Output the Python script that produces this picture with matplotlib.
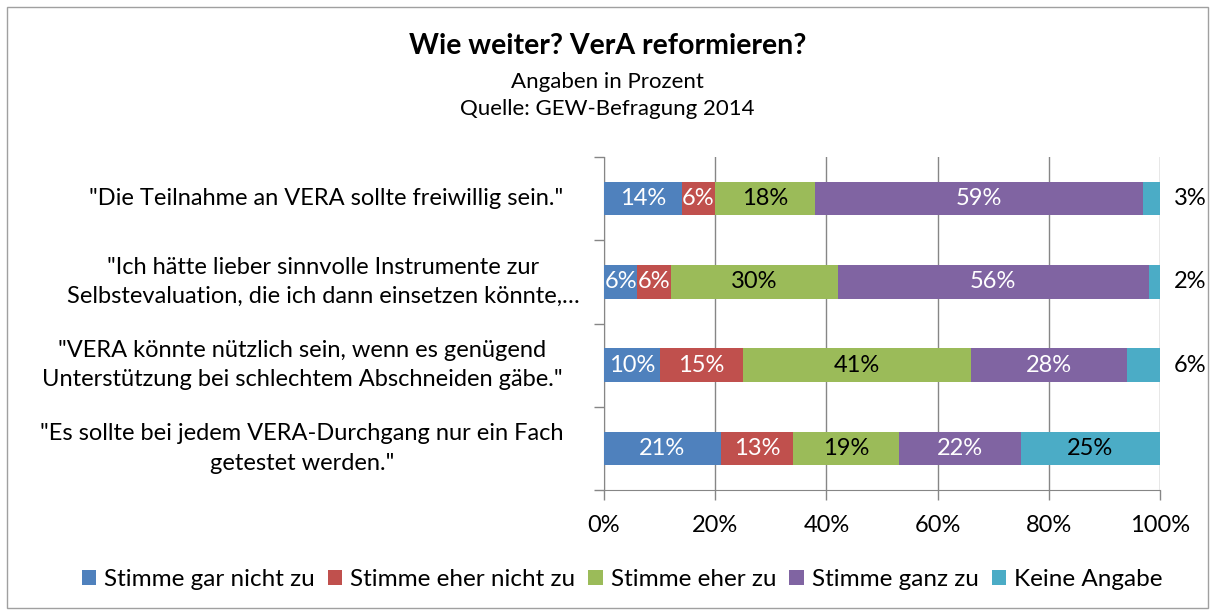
import matplotlib
matplotlib.use('Agg')
from matplotlib import pyplot as plt
from matplotlib.patches import Rectangle

plt.rcParams['font.family'] = ['Lato', 'DejaVu Sans']

# Daten
aussagen = [
    '"Die Teilnahme an VERA sollte freiwillig sein."',
    '"Ich hätte lieber sinnvolle Instrumente zur\nSelbstevaluation, die ich dann einsetzen könnte,…',
    '"VERA könnte nützlich sein, wenn es genügend\nUnterstützung bei schlechtem Abschneiden gäbe."',
    '"Es sollte bei jedem VERA-Durchgang nur ein Fach\ngetestet werden."',
]
kategorien = ['Stimme gar nicht zu', 'Stimme eher nicht zu', 'Stimme eher zu',
              'Stimme ganz zu', 'Keine Angabe']
gar_nicht = [14, 6, 10, 21]
eher_nicht = [6, 6, 15, 13]
eher_zu = [18, 30, 41, 19]
ganz_zu = [59, 56, 28, 22]
keine_angabe = [3, 2, 6, 25]
werte = [gar_nicht, eher_nicht, eher_zu, ganz_zu, keine_angabe]

farben = ['#4F81BD', '#C0504D', '#9BBB59', '#8064A2', '#4BACC6']
textfarben = ['white', 'white', 'black', 'white', 'black']
grau = '#868686'
# horizontale Position der Aussagen (Pixel links von der Achse)
label_versatz = [-278, -281, -302, -302]

fig = plt.figure(figsize=(12.15, 6.16), dpi=100)
fig.patches.append(Rectangle((0.006, 0.013), 0.988, 0.976, transform=fig.transFigure,
                             fill=False, edgecolor='#A0A0A0', linewidth=1))
ax = fig.add_axes([604 / 1215, 1 - 490 / 616, 556 / 1215, 333 / 616])

y = list(range(len(aussagen)))
links = [0] * len(aussagen)
for i, (name, reihe) in enumerate(zip(kategorien, werte)):
    bars = ax.barh(y, reihe, left=links, height=0.4, color=farben[i], label=name, zorder=3)
    for j, (b, v) in enumerate(zip(bars, reihe)):
        if i == 4 and v < 10:
            ax.annotate(f'{v}%', (100, y[j]), xytext=(30, 0), textcoords='offset pixels',
                        ha='center', va='center', fontsize=17, color='black')
        else:
            ax.text(links[j] + v / 2, y[j], f'{v}%', ha='center', va='center',
                    fontsize=17, color=textfarben[i], zorder=4)
    links = [l + v for l, v in zip(links, reihe)]

ax.set_xlim(0, 100)
ax.set_ylim(3.5, -0.5)
ax.set_xticks(range(0, 101, 20))
ax.set_xticklabels([f'{t}%' for t in range(0, 101, 20)], fontsize=17)
ax.set_yticks([-0.5, 0.5, 1.5, 2.5, 3.5])
ax.set_yticklabels([])
ax.tick_params(axis='both', color=grau, length=7, width=1)
ax.tick_params(axis='x', pad=11)
ax.grid(axis='x', color=grau, linewidth=1, zorder=0)
for s in ['top', 'right']:
    ax.spines[s].set_visible(False)
for s in ['left', 'bottom']:
    ax.spines[s].set_color(grau)

# Beschriftung der Aussagen
for j, text in enumerate(aussagen):
    ax.annotate(text, (0, y[j]), xycoords=('axes fraction', 'data'),
                xytext=(label_versatz[j], 0), textcoords='offset pixels',
                ha='center', va='center', multialignment='center',
                fontsize=17, linespacing=1.5)

fig.text(0.5, 1 - 46 / 616, 'Wie weiter? VerA reformieren?', ha='center', va='center',
         fontsize=20.5, fontweight='bold')
fig.text(0.5, 1 - 82 / 616, 'Angaben in Prozent', ha='center', va='center', fontsize=16)
fig.text(0.5, 1 - 109 / 616, 'Quelle: GEW-Befragung 2014', ha='center', va='center', fontsize=16)

fig.legend(loc='center', bbox_to_anchor=(622 / 1215, 1 - 580 / 616), ncol=5, frameon=False,
           fontsize=17.5, handlelength=0.58, handleheight=0.58, handletextpad=0.33,
           columnspacing=0.55, borderaxespad=0, borderpad=0)

fig.savefig('out.png', dpi=100)
